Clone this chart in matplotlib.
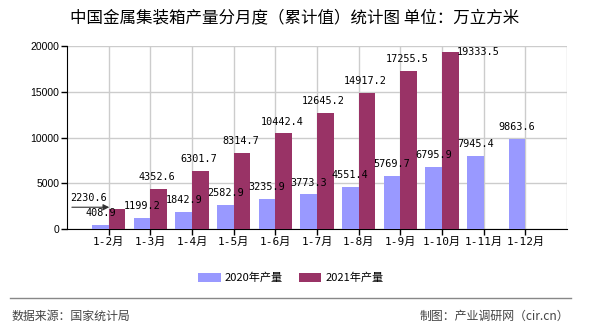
import numpy as np
import matplotlib.pyplot as plt

plt.rcParams['font.family'] = ['Noto Sans CJK SC', 'DejaVu Sans']

# 数据
meses = ['1-2月', '1-3月', '1-4月', '1-5月', '1-6月', '1-7月', '1-8月',
         '1-9月', '1-10月', '1-11月', '1-12月']
prod_2020 = [408.9, 1199.2, 1842.9, 2582.9, 3235.9, 3773.3, 4551.4,
             5769.7, 6795.9, 7945.4, 9863.6]
prod_2021 = [2230.6, 4352.6, 6301.7, 8314.7, 10442.4, 12645.2, 14917.2,
             17255.5, 19333.5]

cor_2020 = '#9999ff'
cor_2021 = '#993366'
mono = ['DejaVu Sans Mono', 'Noto Sans CJK SC']

fig = plt.figure(figsize=(5.9, 3.3), dpi=100)
ax = fig.add_axes([0.1136, 0.306, 0.8474, 0.5546])

x = np.arange(len(meses))
w = 0.4
ax.bar(x - w / 2, prod_2020, width=w, color=cor_2020, label='2020年产量', zorder=3)
x21 = x[:len(prod_2021)]
ax.bar(x21 + w / 2, prod_2021, width=w, color=cor_2021, label='2021年产量', zorder=3)

# rótulos dos valores
for xi, v in zip(x, prod_2020):
    ax.annotate(f'{v:.1f}', (xi - w / 2, v), xytext=(0, 5), textcoords='offset points',
                ha='center', va='bottom', fontsize=7.3, family=mono, zorder=4)
for i, (xi, v) in enumerate(zip(x21, prod_2021)):
    dx, dy, va = 0.16, 5, 'bottom'
    if i == 0:
        dx, dy = -0.48, 4
    elif i == len(prod_2021) - 1:
        dx, dy, va = 0.86, 0, 'center'
    ax.annotate(f'{v:.1f}', (xi + dx, v), xytext=(0, dy), textcoords='offset points',
                ha='center', va=va, fontsize=7.3, family=mono, zorder=4)

# setinha do primeiro rótulo
ax.annotate('', xy=(0.08, prod_2021[0] + 150), xytext=(-0.95, prod_2021[0] + 150),
            arrowprops=dict(arrowstyle='-|>', color='#333333', lw=0.8, mutation_scale=9),
            zorder=5)

ax.set_xlim(-1, 11)
ax.set_ylim(0, 20000)
ax.set_yticks([0, 5000, 10000, 15000, 20000])
ax.set_yticklabels(['0', '5000', '10000', '15000', '20000'], family='Liberation Sans', fontsize=7.5)
ax.set_xticks(x)
ax.set_xticklabels(meses, fontsize=8, family=mono)
ax.tick_params(axis='y', length=4, width=1, pad=1.5)
ax.tick_params(axis='x', length=4, width=1, pad=2)
ax.grid(True, color='#cccccc', linewidth=1, zorder=0)
ax.axvline(11, color='#cccccc', linewidth=1, zorder=0)
for s in ['top', 'right']:
    ax.spines[s].set_visible(False)

fig.text(0.5, 0.945, '中国金属集装箱产量分月度（累计值）统计图 单位：万立方米',
         ha='center', va='center', fontsize=11.9)

fig.legend(loc='center', bbox_to_anchor=(0.493, 0.158), ncol=2, frameon=False,
           fontsize=8, handlelength=2.0, handleheight=0.9, columnspacing=1.4,
           handletextpad=0.4)

fig.add_artist(plt.Line2D([0.017, 0.968], [0.096, 0.096], color='#888888', linewidth=1))
fig.text(0.02, 0.042, '数据来源：国家统计局', ha='left', va='center', fontsize=8.6, color='#444444')
fig.text(0.965, 0.042, '制图：产业调研网（cir.cn）', ha='right', va='center', fontsize=8.6, color='#444444')

fig.savefig('out.png', dpi=100)
